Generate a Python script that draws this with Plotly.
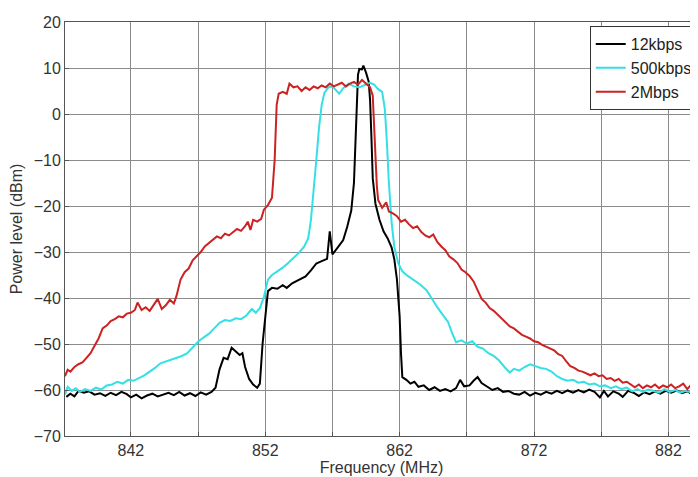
import plotly.graph_objects as go

# 12kbps trace (frequency MHz, power dBm)
freq_12k = [837.2, 837.5, 837.8, 838.1, 838.5, 838.9, 839.3, 839.7, 840.1, 840.5, 840.9, 841.3, 841.7,
            842.0, 842.4, 842.8, 843.2, 843.6, 844.0, 844.4, 844.8, 845.2, 845.6, 846.0, 846.4, 846.8,
            847.2, 847.6, 848.0, 848.3, 848.6, 848.9, 849.2, 849.5, 849.8, 850.1, 850.3, 850.5, 850.8,
            851.1, 851.4, 851.6, 851.8, 852.0, 852.2, 852.5, 852.9, 853.3, 853.6, 854.0, 854.5, 855.0,
            855.4, 855.8, 856.2, 856.6, 856.8, 857.0, 857.4, 857.8, 858.1, 858.4, 858.6, 858.7, 858.8,
            858.9, 859.0, 859.2, 859.3, 859.5, 859.7, 859.8, 859.9, 860.0, 860.2, 860.5, 860.8, 861.1,
            861.4, 861.6, 861.8, 862.0, 862.1, 862.2, 862.5, 862.8, 863.1, 863.4, 863.8, 864.2, 864.6,
            865.0, 865.4, 865.8, 866.2, 866.5, 866.8, 867.2, 867.5, 867.8, 868.1, 868.5, 868.9, 869.3,
            869.7, 870.1, 870.5, 870.9, 871.3, 871.7, 872.1, 872.5, 872.9, 873.3, 873.7, 874.1, 874.5,
            874.9, 875.3, 875.7, 876.1, 876.5, 876.9, 877.2, 877.5, 877.9, 878.3, 878.6, 879.0, 879.4,
            879.8, 880.2, 880.6, 881.0, 881.4, 881.8, 882.2, 882.6, 883.0, 883.4, 883.8, 884.2]
pow_12k = [-61.5, -60.8, -61.4, -60.2, -60.6, -60.3, -61.0, -60.7, -61.3, -60.6, -61.1, -60.4, -60.9,
           -61.6, -61.0, -61.8, -61.2, -60.8, -61.4, -61.0, -60.6, -61.1, -60.4, -61.2, -60.7, -61.3,
           -60.5, -61.0, -60.4, -59.5, -55.5, -53.0, -53.3, -50.8, -51.6, -52.4, -52.0, -55.0, -57.6,
           -58.8, -59.5, -58.6, -50.0, -44.0, -38.5, -37.8, -38.0, -37.2, -37.8, -36.8, -36.0, -35.3,
           -34.0, -32.5, -32.0, -31.5, -25.5, -30.5, -29.0, -27.4, -24.5, -21.0, -15.0, -8.0, 2.0,
           8.5, 9.8, 9.7, 10.5, 9.0, 7.0, 3.0, -5.0, -14.0, -19.5, -23.0, -25.5, -27.0,
           -29.0, -31.5, -36.0, -44.0, -52.0, -57.2, -57.8, -58.6, -58.2, -59.3, -59.0, -60.0, -59.4,
           -60.2, -59.8, -60.3, -59.6, -57.8, -59.2, -59.0, -58.0, -57.2, -58.5, -59.3, -60.0, -59.6,
           -60.4, -60.2, -60.8, -61.0, -60.4, -61.2, -60.6, -61.0, -60.4, -60.8, -60.2, -60.7, -60.1,
           -60.6, -60.0, -60.5, -59.9, -60.4, -61.6, -60.2, -61.4, -60.3, -60.8, -61.5, -60.2, -60.6,
           -61.3, -60.5, -60.9, -60.3, -60.8, -60.2, -60.6, -60.1, -60.7, -60.3, -60.9, -60.5]

# 500kbps trace
freq_500k = [837.1, 837.3, 837.6, 837.9, 838.2, 838.6, 839.0, 839.4, 839.8, 840.2, 840.6, 841.0, 841.4,
             841.8, 842.2, 842.6, 843.0, 843.4, 843.8, 844.2, 844.6, 845.0, 845.4, 845.8, 846.2, 846.6,
             847.0, 847.4, 847.8, 848.2, 848.6, 849.0, 849.4, 849.8, 850.2, 850.6, 851.0, 851.3, 851.6,
             851.9, 852.2, 852.5, 852.9, 853.3, 853.7, 854.1, 854.5, 854.9, 855.2, 855.4, 855.6, 855.8,
             856.0, 856.2, 856.4, 856.7, 857.0, 857.3, 857.5, 857.8, 858.2, 858.6, 859.0, 859.4, 859.8,
             860.1, 860.4, 860.7, 860.9, 861.05, 861.2, 861.4, 861.6, 861.9, 862.2, 862.6, 863.0, 863.5,
             864.0, 864.4, 864.8, 865.2, 865.6, 865.9, 866.2, 866.6, 867.0, 867.4, 867.8, 868.2, 868.6,
             869.0, 869.4, 869.8, 870.2, 870.5, 870.9, 871.3, 871.7, 872.1, 872.5, 872.9, 873.3, 873.7,
             874.1, 874.5, 874.9, 875.3, 875.7, 876.1, 876.5, 876.9, 877.3, 877.7, 878.1, 878.5, 878.9,
             879.3, 879.7, 880.1, 880.5, 880.9, 881.3, 881.7, 882.1, 882.5, 882.9, 883.3, 883.7, 884.2]
pow_500k = [-61.0, -59.3, -60.2, -59.6, -60.4, -59.8, -60.2, -59.5, -59.9, -59.0, -58.8, -58.2, -58.6,
            -57.8, -58.0, -57.4, -56.8, -56.0, -55.2, -54.2, -53.8, -53.4, -53.0, -52.6, -52.0, -50.8,
            -49.5, -48.6, -47.8, -46.6, -45.4, -44.8, -45.0, -44.4, -44.6, -43.8, -42.4, -43.2, -42.2,
            -39.8, -36.0, -35.0, -34.2, -33.4, -32.4, -31.4, -30.2, -28.8, -27.0, -23.0, -17.0, -10.0,
            -3.0, 2.0, 4.6, 5.8, 6.0, 5.0, 4.4, 5.6, 6.6, 6.0, 5.8, 6.3, 6.8,
            6.4, 5.4, 4.8, 1.0, -6.0, -15.0, -23.5, -28.8, -32.5, -34.2, -35.2, -36.0, -37.0,
            -38.3, -40.2, -42.0, -43.6, -45.2, -47.6, -49.6, -49.2, -49.9, -49.4, -50.6, -51.0, -52.0,
            -52.6, -53.6, -55.0, -56.2, -55.4, -55.8, -55.0, -54.4, -54.8, -55.2, -55.4, -56.0, -57.0,
            -57.6, -58.0, -57.8, -58.4, -58.2, -58.8, -58.6, -59.2, -59.0, -59.6, -59.2, -59.8, -59.5,
            -60.3, -59.8, -60.4, -59.9, -60.2, -60.6, -59.8, -60.4, -60.0, -60.6, -60.2, -60.5, -60.3]

# 2Mbps trace
freq_2m = [837.1, 837.3, 837.5, 837.8, 838.1, 838.4, 838.7, 839.0, 839.3, 839.6, 839.9, 840.2, 840.5,
           840.8, 841.1, 841.4, 841.7, 842.0, 842.3, 842.5, 842.8, 843.1, 843.4, 843.7, 844.0, 844.3,
           844.6, 844.9, 845.2, 845.4, 845.7, 846.0, 846.3, 846.6, 846.9, 847.2, 847.5, 847.8, 848.1,
           848.4, 848.7, 849.0, 849.3, 849.6, 849.9, 850.2, 850.5, 850.7, 850.9, 851.1, 851.4, 851.7,
           851.9, 852.2, 852.5, 852.7, 852.85, 853.0, 853.3, 853.6, 853.8, 854.1, 854.4, 854.7, 855.0,
           855.3, 855.6, 855.9, 856.2, 856.5, 856.8, 857.1, 857.4, 857.7, 858.0, 858.3, 858.6, 858.9,
           859.2, 859.5, 859.8, 860.0, 860.1, 860.2, 860.3, 860.4, 860.7, 861.0, 861.2, 861.5, 861.8,
           862.1, 862.4, 862.7, 863.0, 863.3, 863.6, 863.9, 864.2, 864.5, 864.8, 865.1, 865.4, 865.7,
           866.0, 866.3, 866.6, 866.9, 867.2, 867.5, 867.8, 868.1, 868.4, 868.7, 869.0, 869.3, 869.6,
           869.9, 870.2, 870.5, 870.8, 871.1, 871.4, 871.7, 872.0, 872.3, 872.6, 872.9, 873.2, 873.5,
           873.8, 874.1, 874.4, 874.7, 875.0, 875.3, 875.6, 875.9, 876.2, 876.5, 876.8, 877.1, 877.4,
           877.7, 878.0, 878.3, 878.6, 878.9, 879.2, 879.5, 879.8, 880.1, 880.4, 880.7, 881.0, 881.3,
           881.6, 881.9, 882.2, 882.5, 882.8, 883.1, 883.4, 883.7, 884.0, 884.2]
pow_2m = [-57.0, -55.6, -56.0, -55.0, -54.4, -54.0, -53.0, -52.0, -50.4, -48.8, -46.6, -46.0, -45.0,
          -44.6, -44.0, -44.2, -43.4, -43.2, -42.6, -41.0, -42.6, -42.0, -42.8, -41.6, -40.2, -42.4,
          -41.6, -40.4, -41.2, -39.5, -36.0, -34.4, -33.6, -31.8, -31.0, -30.0, -28.8, -28.0, -27.4,
          -26.6, -27.0, -26.0, -26.4, -25.6, -25.0, -25.4, -24.4, -23.4, -25.2, -23.0, -23.4, -22.8,
          -20.8, -19.8, -18.2, -10.0, 2.0, 4.4, 4.8, 4.4, 6.6, 5.8, 6.0, 5.0, 5.8,
          5.2, 6.0, 5.6, 6.2, 5.8, 6.6, 6.0, 6.4, 6.8, 6.0, 6.6, 7.0, 6.4,
          7.4, 6.6, 5.8, 4.0, -3.0, -10.0, -15.5, -18.7, -20.4, -19.2, -21.2, -21.6, -22.2,
          -23.4, -23.0, -24.0, -24.8, -24.4, -25.6, -26.4, -26.8, -26.2, -27.8, -28.8, -29.6, -31.0,
          -31.6, -32.4, -33.8, -34.4, -35.2, -36.4, -38.4, -40.2, -41.0, -42.2, -42.8, -43.6, -44.4,
          -45.4, -46.2, -46.6, -47.4, -48.0, -48.4, -48.8, -49.4, -49.6, -50.2, -50.6, -51.0, -51.4,
          -52.2, -52.6, -53.8, -54.8, -55.2, -55.8, -56.0, -56.4, -56.8, -56.4, -57.0, -56.8, -57.6,
          -57.4, -58.0, -57.6, -58.4, -58.2, -58.8, -59.4, -58.8, -59.6, -59.0, -59.4, -58.8, -59.6,
          -59.0, -59.4, -58.8, -59.6, -59.2, -58.6, -59.8, -58.8, -59.6, -58.4]

x_ticks = [842, 847, 852, 857, 862, 867, 872, 877, 882]
x_labels = ["842", "", "852", "", "862", "", "872", "", "882"]
y_ticks = [-70, -60, -50, -40, -30, -20, -10, 0, 10, 20]

fig = go.Figure()
fig.add_trace(go.Scatter(x=freq_12k, y=pow_12k, mode="lines", name="12kbps",
                         line=dict(color="#000000", width=2)))
fig.add_trace(go.Scatter(x=freq_500k, y=pow_500k, mode="lines", name="500kbps",
                         line=dict(color="#33E0E6", width=2)))
fig.add_trace(go.Scatter(x=freq_2m, y=pow_2m, mode="lines", name="2Mbps",
                         line=dict(color="#CC2222", width=2)))

tick_font = dict(family="Liberation Sans, Arial", size=16, color="#333333")
title_font = dict(family="Liberation Sans, Arial", size=16, color="#333333")
fig.update_xaxes(range=[837.1, 884.2], tickvals=x_ticks, ticktext=x_labels,
                 showgrid=True, gridcolor="#8c8c8c", gridwidth=1,
                 showline=True, linecolor="#555555", mirror=True,
                 ticks="inside", ticklen=4, tickcolor="#555555",
                 tickfont=tick_font, zeroline=False, automargin=False,
                 title=dict(text="Frequency (MHz)", font=title_font, standoff=1))
fig.update_yaxes(range=[-70, 20], tickvals=y_ticks,
                 showgrid=True, gridcolor="#8c8c8c", gridwidth=1,
                 showline=True, linecolor="#555555",
                 ticks="inside", ticklen=4, tickcolor="#555555",
                 tickfont=tick_font, zeroline=False, automargin=False,
                 title=dict(text="Power level (dBm)", font=title_font, standoff=8))
# page body has an 8px margin, so the figure is shrunk by that much to keep the plot area in place
fig.update_layout(
    width=690, height=469,
    margin=dict(l=57, r=0, t=14, b=41),
    plot_bgcolor="white", paper_bgcolor="white",
    font=tick_font,
    legend=dict(x=0.829, y=0.99, xanchor="left", yanchor="top",
                bgcolor="white", bordercolor="#333333", borderwidth=1,
                font=dict(family="Liberation Sans, Arial", size=16, color="#222222"),
                itemwidth=30, tracegroupgap=0),
)
fig.write_html("out.html")
